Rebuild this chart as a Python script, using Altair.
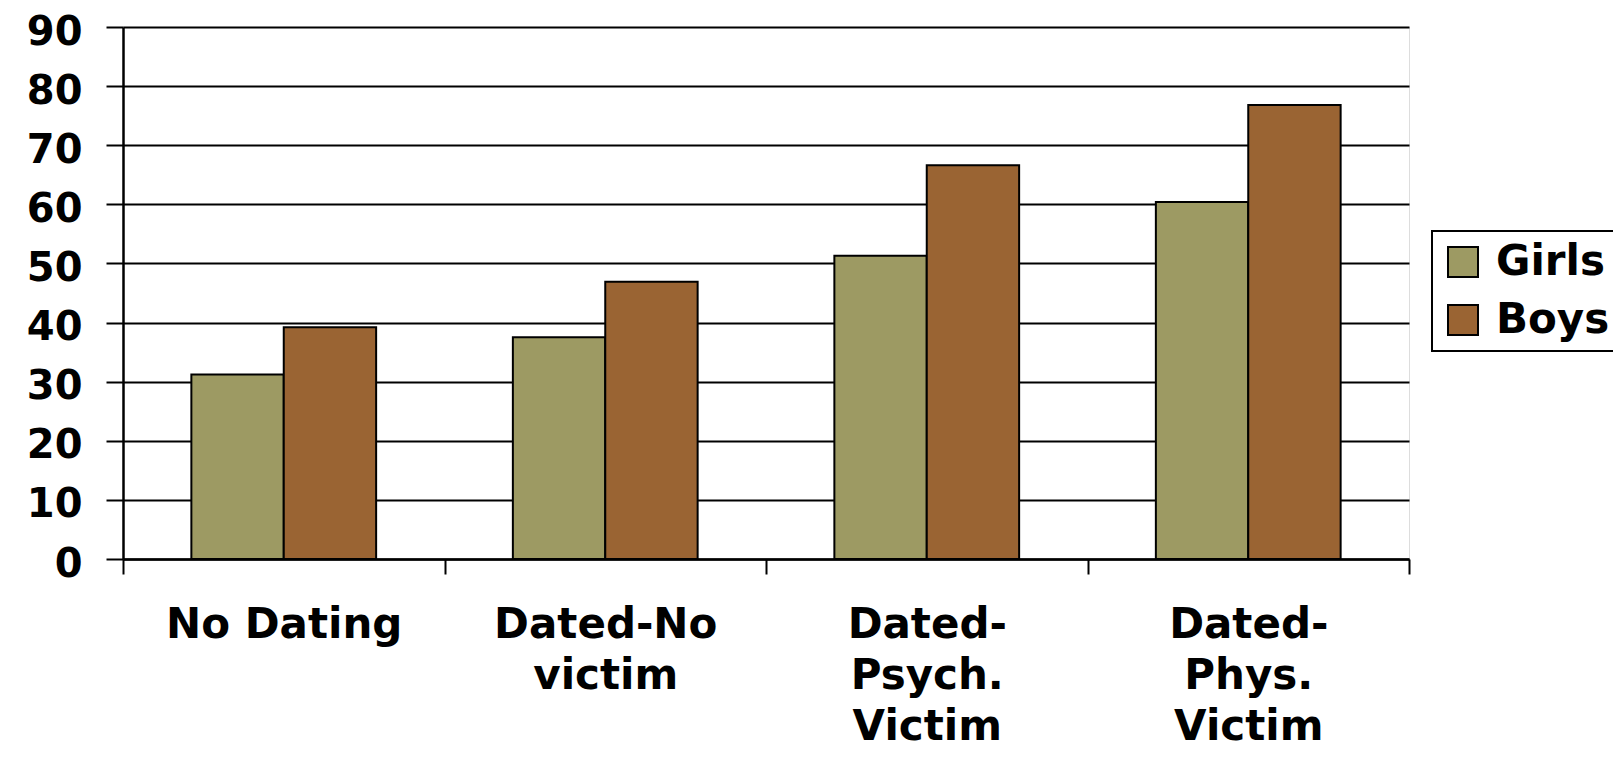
import altair as alt
import pandas as pd

categories = ["No Dating", "Dated-No victim", "Dated-Psych. Victim", "Dated-Phys. Victim"]
label_lines = {
    "No Dating": ["No Dating"],
    "Dated-No victim": ["Dated-No", "victim"],
    "Dated-Psych. Victim": ["Dated-", "Psych.", "Victim"],
    "Dated-Phys. Victim": ["Dated-", "Phys.", "Victim"],
}
series = ["Girls", "Boys"]
girls = [31.2, 37.5, 51.3, 60.4]
boys = [39.2, 46.9, 66.6, 76.8]
colors = ["#9D9A63", "#9A6433"]
y_ticks = [0, 10, 20, 30, 40, 50, 60, 70, 80, 90]

rows = []
for i, c in enumerate(categories):
    rows.append({"category": c, "group": "Girls", "value": girls[i]})
    rows.append({"category": c, "group": "Boys", "value": boys[i]})
df = pd.DataFrame(rows)

expr = "''"
for c, lines in reversed(list(label_lines.items())):
    arr = "[" + ",".join("'" + l + "'" for l in lines) + "]"
    expr = f"datum.value == '{c}' ? {arr} : ({expr})"

font = "DejaVu Sans"

chart = alt.Chart(df).mark_bar(stroke="black", strokeWidth=2).encode(
    x=alt.X(
        "category:N",
        sort=categories,
        title=None,
        scale=alt.Scale(paddingInner=0, paddingOuter=0),
        axis=alt.Axis(
            labelExpr=expr,
            labelAngle=0,
            labelFont=font,
            labelFontWeight="bold",
            labelFontSize=42,
            labelColor="black",
            labelLineHeight=51,
            labelPadding=30,
            labelBaseline="top",
            labelLimit=0,
            tickBand="extent",
            tickSize=15,
            tickColor="black",
            tickWidth=2,
            domainColor="black",
            domainWidth=2.5,
            grid=False,
        ),
    ),
    xOffset=alt.XOffset(
        "group:N",
        sort=series,
        scale=alt.Scale(paddingInner=0, paddingOuter=0.74),
    ),
    y=alt.Y(
        "value:Q",
        title=None,
        scale=alt.Scale(domain=[0, 90], nice=False),
        axis=alt.Axis(
            values=y_ticks,
            labelFont=font,
            labelFontWeight="bold",
            labelFontSize=40,
            labelColor="black",
            labelPadding=24,
            labelOffset=5,
            tickSize=17,
            tickColor="black",
            tickWidth=2,
            gridColor="black",
            gridWidth=2,
            gridOpacity=1,
            domainColor="black",
            domainWidth=2.5,
        ),
    ),
    color=alt.Color(
        "group:N",
        sort=series,
        scale=alt.Scale(domain=series, range=colors),
        legend=alt.Legend(
            title=None,
            orient="none",
            legendX=1309,
            legendY=204,
            symbolType="square",
            symbolSize=900,
            symbolStrokeColor="black",
            symbolStrokeWidth=2,
            symbolOpacity=1,
            labelFont=font,
            labelFontWeight="bold",
            labelFontSize=42,
            labelColor="black",
            labelOffset=12,
            labelLimit=0,
            padding=10,
            strokeColor="black",
        ),
    ),
).properties(
    width=1286,
    height=532,
    autosize=alt.AutoSizeParams(type="none"),
    padding={"left": 115, "top": 19, "right": 204, "bottom": 192},
).configure_view(stroke=None).configure(background="white").configure_legend(
    rowPadding=16, strokeWidth=2
)

chart.save("out.html", embed_options={"renderer": "svg", "actions": False})
